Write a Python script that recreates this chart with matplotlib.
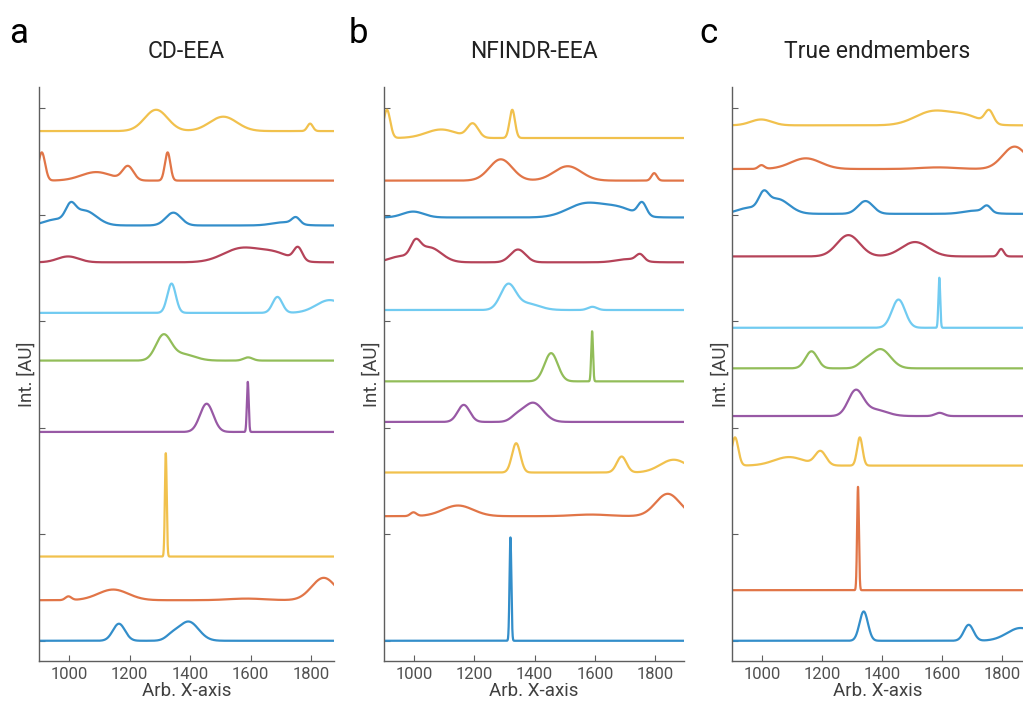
import numpy as np
import matplotlib
matplotlib.use("Agg")
import matplotlib.pyplot as plt
from matplotlib.colors import to_rgb

plt.rcParams['font.family'] = ['Roboto', 'DejaVu Sans']

# ---------------- data: peak tables of the ten spectra (center, height, sigma) ----------------
A_pos = [1165, 1340, 1395];             A_amp = [0.16, 0.04, 0.18];              A_wid = [20, 20, 33]
B_pos = [998, 1146, 1587, 1842];        B_amp = [0.035, 0.10, 0.015, 0.21];      B_wid = [10, 50, 60, 40]
C_pos = [1320];                         C_amp = [0.97];                          C_wid = [3]
D_pos = [1455, 1591];                   D_amp = [0.265, 0.47];                   D_wid = [22, 3]
E_pos = [1312, 1375, 1592];             E_amp = [0.23, 0.06, 0.03];              E_wid = [25, 40, 15]
F_pos = [1339, 1689, 1862];             F_amp = [0.275, 0.15, 0.12];             F_wid = [14, 16, 45]
G_pos = [997, 1570, 1680, 1757];        G_amp = [0.055, 0.13, 0.08, 0.12];       G_wid = [35, 60, 50, 14]
H_pos = [950, 1005, 1050, 1345, 1712, 1750]
H_amp = [0.05, 0.13, 0.14, 0.12, 0.03, 0.06]
H_wid = [35, 16, 40, 25, 40, 13]
I_pos = [910, 1090, 1195, 1326];        I_amp = [0.265, 0.08, 0.13, 0.265];      I_wid = [11, 50, 18, 9]
J_pos = [1288, 1510, 1797];             J_amp = [0.20, 0.135, 0.07];             J_wid = [38, 45, 9]

peaks = {
    'A': (A_pos, A_amp, A_wid), 'B': (B_pos, B_amp, B_wid), 'C': (C_pos, C_amp, C_wid),
    'D': (D_pos, D_amp, D_wid), 'E': (E_pos, E_amp, E_wid), 'F': (F_pos, F_amp, F_wid),
    'G': (G_pos, G_amp, G_wid), 'H': (H_pos, H_amp, H_wid), 'I': (I_pos, I_amp, I_wid),
    'J': (J_pos, J_amp, J_wid),
}

# stacking order (bottom -> top) in each panel
order_a = ['A', 'B', 'C', 'D', 'E', 'F', 'G', 'H', 'I', 'J']
order_b = ['C', 'B', 'F', 'A', 'D', 'E', 'H', 'G', 'J', 'I']
order_c = ['F', 'C', 'I', 'E', 'A', 'D', 'J', 'H', 'B', 'G']

titles = ['CD-EEA', 'NFINDR-EEA', 'True endmembers']
letters = ['a', 'b', 'c']
xticks = [1000, 1200, 1400, 1600, 1800]
yticks = [0, 1, 2, 3, 4, 5]

# ---------------- styling ----------------
base_colors = ['#0072BD', '#D95319', '#EDB120', '#7E2F8E', '#77AC30', '#4DBEEE', '#A2142F']
colors = [tuple(0.8 * np.array(to_rgb(c)) + 0.2) for c in base_colors]
gap = 0.2
x = np.linspace(900, 1900, 4001)


def spectrum(key):
    pos, amp, wid = peaks[key]
    y = np.zeros_like(x)
    for p, a, w in zip(pos, amp, wid):
        y += a * np.exp(-0.5 * ((x - p) / w) ** 2)
    return y


W, H = 1023, 709
fig = plt.figure(figsize=(W / 100, H / 100), dpi=100)

# axes pixel boxes: left, right, xmax
boxes = [(38.75, 334, 1876), (383.9, 684, 1896), (732, 1023, 1870)]
top_px, bot_px = 87, 661
axis_grey = '#5e5e5e'

for i, order in enumerate([order_a, order_b, order_c]):
    l, r, xmax = boxes[i]
    ax = fig.add_axes([l / W, (H - bot_px) / H, (r - l) / W, (bot_px - top_px) / H])
    off = 0.0
    for k, key in enumerate(order):
        y = spectrum(key)
        ax.plot(x, y + off, color=colors[k % len(colors)], lw=1.6, solid_joinstyle='round')
        off += y.max() + gap
    ax.set_xlim(900, xmax)
    ax.set_ylim(-0.19, 5.2)
    ax.set_xticks(xticks)
    ax.set_yticks(yticks)
    ax.set_yticklabels([])
    for s in ['top', 'right']:
        ax.spines[s].set_visible(False)
    for s in ['left', 'bottom']:
        ax.spines[s].set_color(axis_grey)
        ax.spines[s].set_linewidth(1.0)
    ax.tick_params(direction='in', length=4, width=0.8, color=axis_grey,
                   labelcolor='#505050', labelsize=12, pad=4)
    ax.set_xlabel('Arb. X-axis', fontsize=13.5, color='#404040', labelpad=0)
    ax.set_ylabel('Int. [AU]', fontsize=13.5, color='#404040', labelpad=-2)
    ax.patch.set_alpha(0)
    cx = (l + r) / 2
    fig.text(cx / W, (H - 58) / H, titles[i], ha='center', va='baseline',
             fontsize=16.5, color='#222222')

for lx, t in zip([9, 349, 699], letters):
    fig.text(lx / W, (H - 43) / H, t, ha='left', va='baseline', fontsize=25, color='black')

fig.savefig('out.png', dpi=100)
